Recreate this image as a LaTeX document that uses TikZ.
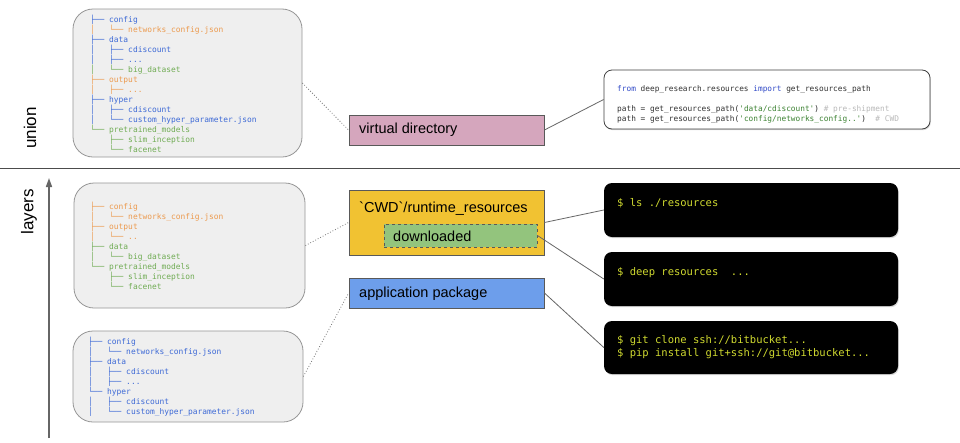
\documentclass[tikz,border=0pt]{standalone}
\usepackage{fontspec}
\newfontfamily\sans{Liberation Sans}
\newfontfamily\mono{DejaVu Sans Mono}
\usetikzlibrary{arrows.meta,shadows}
\definecolor{tblue}{RGB}{62,106,214}
\definecolor{torange}{RGB}{236,155,80}
\definecolor{tgreen}{RGB}{112,172,84}
\definecolor{treefill}{RGB}{239,239,239}
\definecolor{treedraw}{RGB}{150,150,150}
\definecolor{vdfill}{RGB}{213,166,189}
\definecolor{cwdfill}{RGB}{241,194,50}
\definecolor{dlfill}{RGB}{147,196,125}
\definecolor{appfill}{RGB}{109,158,235}
\definecolor{boxdraw}{RGB}{89,89,89}
\definecolor{kwblue}{RGB}{50,75,200}
\definecolor{strgreen}{RGB}{60,130,50}
\definecolor{cmgray}{RGB}{185,185,185}
\definecolor{codetext}{RGB}{50,50,50}
\definecolor{termtext}{RGB}{208,218,48}
\newcommand\trow[2]{{\color{#1}#2}}
\begin{document}
\begin{tikzpicture}[x=1pt,y=-1pt,
  treebox/.style={draw=treedraw,fill=treefill,rounded corners=20pt,line width=0.8pt,inner sep=0pt},
  treetext/.style={anchor=base west,align=left,inner sep=0pt,font=\mono\fontsize{7.9}{10}\selectfont},
  layerbox/.style={draw=boxdraw,line width=0.9pt,inner sep=0pt,minimum width=195pt},
  labeltext/.style={anchor=west,inner sep=0pt,font=\sans\fontsize{14.5}{16}\selectfont},
  codebox/.style={draw=black!75,fill=white,rounded corners=8pt,line width=0.8pt,inner sep=0pt,
    drop shadow={shadow xshift=0.8pt,shadow yshift=-1.2pt,opacity=0.3}},
  codetextst/.style={anchor=base west,align=left,inner sep=0pt,text=codetext,font=\mono\fontsize{7.8}{10}\selectfont},
  termbox/.style={fill=black,rounded corners=8pt,inner sep=0pt,minimum width=294pt,
    drop shadow={shadow xshift=0.8pt,shadow yshift=-1.2pt,opacity=0.3}},
  termtextst/.style={anchor=base west,align=left,inner sep=0pt,text=termtext,font=\mono\fontsize{10.5}{13}\selectfont},
  dotlink/.style={draw=black!55,dotted,line width=0.8pt},
  sollink/.style={draw=black!60,line width=0.8pt},
  sidetext/.style={rotate=90,inner sep=0pt,font=\sans\fontsize{17}{19}\selectfont}
]
\useasboundingbox (0,0) rectangle (960,442);
\fill[white] (0,0) rectangle (960,442);

% side labels, separator and arrow
\node[sidetext] (union) at (30,128) {union};
\node[sidetext] (layers) at (29,212) {layers};
\coordinate (sepL) at (0,168);
\coordinate (sepR) at (960,168);
\draw[draw=black!70,line width=1pt] (sepL) -- (sepR);
\coordinate (arrB) at (49,438);
\coordinate (arrT) at (49,178);
\draw[draw=black!60,line width=1.6pt,-{Triangle[length=9pt,width=6pt]}] (arrB) -- (arrT);

% tree boxes (text anchored at the baseline of its last line)
\node[treebox,minimum width=229pt,minimum height=148pt] (tree1) at (187.5,83) {};
\node[treetext] (tree1txt) at (90,152) {%
\trow{tblue}{├──~config}\\
\trow{torange}{│~~~└──~networks\_config.json}\\
\trow{tblue}{├──~data}\\
\trow{tblue}{│~~~├──~cdiscount}\\
\trow{tblue}{│~~~├──~...}\\
\trow{tgreen}{│~~~└──~big\_dataset}\\
\trow{torange}{├──~output}\\
\trow{torange}{│~~~├──~...}\\
\trow{tblue}{├──~hyper}\\
\trow{tblue}{│~~~├──~cdiscount}\\
\trow{tblue}{│~~~└──~custom\_hyper\_parameter.json}\\
\trow{tgreen}{└──~pretrained\_models}\\
\trow{tgreen}{~~~~├──~slim\_inception}\\
\trow{tgreen}{~~~~└──~facenet}};

\node[treebox,minimum width=231pt,minimum height=125pt] (tree2) at (189.5,245.5) {};
\node[treetext] (tree2txt) at (90,289) {%
\trow{torange}{├──~config}\\
\trow{torange}{│~~~└──~networks\_config.json}\\
\trow{torange}{├──~output}\\
\trow{torange}{│~~~└──~..}\\
\trow{tgreen}{├──~data}\\
\trow{tgreen}{│~~~└──~big\_dataset}\\
\trow{tgreen}{└──~pretrained\_models}\\
\trow{tgreen}{~~~~├──~slim\_inception}\\
\trow{tgreen}{~~~~└──~facenet}};

\node[treebox,minimum width=230pt,minimum height=91pt] (tree3) at (188,376.5) {};
\node[treetext] (tree3txt) at (88,414) {%
\trow{tblue}{├──~config}\\
\trow{tblue}{│~~~└──~networks\_config.json}\\
\trow{tblue}{├──~data}\\
\trow{tblue}{│~~~├──~cdiscount}\\
\trow{tblue}{│~~~├──~...}\\
\trow{tblue}{└──~hyper}\\
\trow{tblue}{│~~~├──~cdiscount}\\
\trow{tblue}{│~~~└──~custom\_hyper\_parameter.json}};

% layer boxes
\node[layerbox,fill=vdfill,minimum height=30pt] (vd) at (446.5,130) {};
\node[labeltext] (vdtxt) at (359,130) {virtual directory};
\node[layerbox,fill=cwdfill,minimum height=65pt] (cwd) at (446.5,222.5) {};
\node[labeltext] (cwdtxt) at (359,209) {`CWD`/runtime\_resources};
\node[draw=boxdraw,fill=dlfill,dashed,line width=0.9pt,inner sep=0pt,minimum width=153pt,minimum height=23pt] (dl) at (460.5,235.5) {};
\node[labeltext] (dltxt) at (393,236.5) {downloaded};
\node[layerbox,fill=appfill,minimum height=30pt] (app) at (446.5,293) {};
\node[labeltext] (apptxt) at (359,293.5) {application package};

% code box
\node[codebox,minimum width=326pt,minimum height=59pt] (code) at (767,99.5) {};
\node[codetextst] (code1) at (617,91) {\trow{kwblue}{from} deep\_research.resources \trow{kwblue}{import} get\_resources\_path};
\node[codetextst] (code2) at (617,121) {path = get\_resources\_path(\trow{strgreen}{'data/cdiscount'}) \trow{cmgray}{\# pre-shipment}\\
path = get\_resources\_path(\trow{strgreen}{'config/networks\_config..'})~~\trow{cmgray}{\# CWD}};

% terminals
\node[termbox,minimum height=54pt] (term1) at (751,210) {};
\node[termtextst] (term1txt) at (617,206) {\$~ls~./resources};
\node[termbox,minimum height=54pt] (term2) at (751,279) {};
\node[termtextst] (term2txt) at (617,275) {\$~deep~resources~~...};
\node[termbox,minimum height=53pt] (term3) at (751,347.5) {};
\node[termtextst] (term3txt) at (617,356) {\$~git~clone~ssh://bitbucket...\\
\$~pip~install~git+ssh://git@bitbucket...};

% connectors
\draw[dotlink] (tree1.east) -- (vd.west);
\draw[dotlink] (tree2.east) -- (cwd.west);
\draw[dotlink] (tree3.east) -- (app.west);
\draw[sollink] (vd.east) -- (code.west);
\draw[sollink] (cwd.east) -- (term1.west);
\draw[sollink] (dl.east) -- (term2.west);
\draw[sollink] (app.east) -- (term3.west);
\end{tikzpicture}
\end{document}
